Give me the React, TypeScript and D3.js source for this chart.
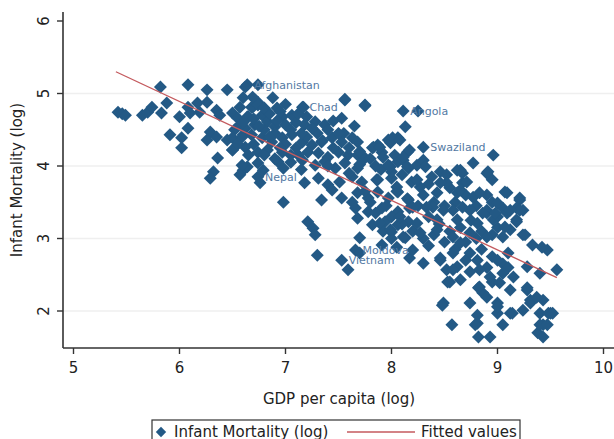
import * as d3 from "d3";

// observations: [gdp per capita (log), infant mortality (log)]
const obsLeft: [number, number][] = [
  [5.42, 4.74], [5.46, 4.72], [5.49, 4.70], [5.65, 4.70], [5.70, 4.74], [5.74, 4.81],
  [5.83, 4.73], [5.88, 4.87], [5.82, 5.09], [6.08, 5.12], [6.26, 5.05], [6.45, 5.05],
  [6.64, 5.12], [6.74, 5.12], [5.91, 4.43], [6.02, 4.39], [6.02, 4.25], [6.08, 4.52],
  [6.00, 4.68], [6.08, 4.81], [6.17, 4.87], [6.26, 4.88], [6.19, 4.74], [6.10, 4.73],
  [6.35, 4.77], [6.38, 4.70], [6.29, 4.47], [6.26, 4.36], [6.35, 4.40], [6.36, 4.11],
  [6.32, 3.92], [6.29, 3.83], [6.45, 4.36], [6.50, 4.22], [6.60, 4.43], [6.57, 4.57],
  [6.64, 4.68], [6.69, 4.81], [6.57, 4.81], [6.74, 4.88], [6.60, 4.94], [6.69, 4.95],
  [6.60, 3.94], [6.64, 3.99], [6.74, 3.85], [6.79, 3.94],
];

const obsCore: [number, number][] = [
  [6.62, 5.09], [6.88, 4.94], [6.68, 4.81], [6.74, 4.84], [6.92, 4.80], [7.16, 4.81],
  [7.56, 4.91], [7.75, 4.84], [7.53, 4.66], [8.13, 4.54],
  [6.50, 4.73], [6.55, 4.66], [6.65, 4.68], [6.78, 4.70], [6.83, 4.61], [6.97, 4.68],
  [7.06, 4.70], [7.18, 4.57], [7.28, 4.61], [7.37, 4.57], [7.00, 4.57], [6.90, 4.54],
  [6.71, 4.57], [6.62, 4.52], [6.52, 4.50],
  [6.50, 4.39], [6.59, 4.40], [6.68, 4.43], [6.78, 4.39], [6.87, 4.33], [6.97, 4.39],
  [7.06, 4.43], [7.16, 4.33], [7.25, 4.29], [7.34, 4.33], [7.44, 4.39], [7.53, 4.33],
  [7.63, 4.39], [7.68, 4.33], [7.87, 4.29], [7.97, 4.36], [8.06, 4.39], [6.50, 4.22],
  [6.62, 4.26], [6.74, 4.19], [6.83, 4.22], [6.97, 4.19], [7.12, 4.15], [7.21, 4.19],
  [7.31, 4.18], [7.40, 4.12], [7.50, 4.19], [7.59, 4.15], [7.68, 4.15], [7.82, 4.25],
  [7.91, 4.19], [8.03, 4.15], [8.15, 4.19],
  [6.59, 4.01], [6.74, 4.04], [6.93, 4.06], [6.98, 3.97], [7.16, 4.08], [7.28, 4.01],
  [7.37, 4.06], [7.47, 3.97], [7.56, 4.04], [7.68, 3.97], [7.75, 4.11], [7.97, 4.01],
  [8.06, 4.06], [8.16, 3.97], [6.57, 3.88], [6.76, 3.77], [7.18, 3.77],
  [7.31, 3.83], [7.40, 3.74], [7.51, 3.78], [7.63, 3.85], [7.72, 3.78], [7.87, 3.81],
  [8.00, 3.83], [8.10, 3.88], [8.19, 3.78],
  [6.70, 4.65], [6.80, 4.50], [6.90, 4.45], [7.00, 4.30], [7.10, 4.25], [7.20, 4.40],
  [7.30, 4.45], [7.40, 4.50], [7.45, 4.25], [6.95, 4.75], [7.10, 4.60], [7.20, 4.68],
  [6.85, 4.72], [7.40, 4.00], [7.60, 3.90], [7.55, 4.45], [7.65, 4.55], [7.45, 4.62],
  [6.55, 4.30], [6.70, 4.30], [6.80, 4.15], [6.90, 4.10], [7.05, 4.05], [7.15, 3.95],
  [6.60, 4.60], [6.75, 4.55], [6.85, 4.40], [6.95, 4.25], [7.05, 4.15], [7.15, 4.45],
  [7.25, 4.52], [7.35, 4.35], [7.50, 4.45], [7.60, 4.25], [7.70, 4.20], [7.80, 4.10],
  [7.90, 3.95], [8.00, 3.92], [7.85, 4.00], [7.70, 4.02], [6.65, 4.15], [6.92, 4.62],
  [7.05, 4.50], [7.12, 4.72], [6.80, 4.80], [7.00, 4.85],
];

const obsMid: [number, number][] = [
  [7.44, 3.67], [7.53, 3.56], [7.63, 3.50], [7.68, 3.63], [7.78, 3.56], [7.87, 3.64],
  [7.97, 3.56], [8.06, 3.64], [8.16, 3.53], [6.98, 3.50], [7.66, 3.42], [7.78, 3.37],
  [7.91, 3.42], [8.06, 3.37], [8.17, 3.42],
  [7.21, 3.23], [7.26, 3.14], [7.28, 3.05], [7.68, 3.28], [7.82, 3.19], [7.94, 3.23],
  [8.06, 3.19], [8.16, 3.23], [7.70, 3.01], [8.13, 3.01], [8.00, 3.09],
  [7.34, 3.53], [7.30, 2.77], [7.66, 2.84], [7.70, 2.80], [7.53, 2.70], [7.59, 2.57],
  [7.91, 2.91], [8.30, 2.66], [8.17, 2.73],
  [8.00, 3.30], [8.10, 3.20], [8.20, 3.10], [8.30, 3.00], [8.35, 2.90], [8.40, 3.05],
  [8.50, 2.95], [8.55, 3.10], [8.45, 3.20], [8.35, 3.30], [8.25, 3.45], [8.15, 3.55],
  [8.05, 3.65], [7.95, 3.45], [7.85, 3.35], [7.80, 3.50], [7.75, 3.65], [7.92, 3.10],
  [8.00, 3.00], [8.60, 2.85], [8.70, 2.95], [8.80, 3.00], [8.85, 2.85], [8.95, 2.75],
  [9.05, 2.65], [9.10, 2.80], [8.65, 3.15], [8.75, 3.25],
  [8.30, 3.60], [8.40, 3.50], [8.50, 3.45], [8.60, 3.50], [8.70, 3.60], [8.55, 3.70],
  [8.35, 3.75], [8.80, 3.45], [8.95, 3.50], [9.00, 3.30], [8.85, 3.10], [8.95, 3.05],
  [9.00, 3.15], [8.70, 2.70], [8.90, 2.60], [9.00, 2.70], [8.95, 2.40], [9.10, 2.60],
];

const obsRight: [number, number][] = [
  [7.56, 4.92], [7.75, 4.83], [8.11, 4.76], [8.25, 4.76], [7.17, 4.81],
  [8.30, 4.26], [8.96, 4.15], [7.83, 4.26], [7.99, 4.32], [8.17, 4.22], [8.11, 4.08],
  [7.99, 3.99], [8.24, 4.01], [8.46, 3.92], [8.65, 3.94], [8.77, 4.04], [8.90, 3.90],
  [8.52, 3.77], [8.67, 3.77], [8.38, 3.85], [7.86, 3.81], [8.05, 3.71], [8.27, 3.71],
  [8.43, 3.63], [8.62, 3.63], [8.77, 3.57], [8.90, 3.60], [9.07, 3.64], [9.21, 3.53],
  [9.05, 3.42], [9.24, 3.39], [9.18, 3.26], [8.90, 3.39], [8.74, 3.39], [8.58, 3.39],
  [8.39, 3.43], [8.20, 3.43], [8.08, 3.30], [8.24, 3.21], [8.43, 3.26], [8.62, 3.26],
  [8.81, 3.21], [8.96, 3.26], [9.12, 3.12], [9.24, 3.05], [9.33, 2.91], [9.47, 2.84],
  [9.40, 2.52], [9.56, 2.57], [9.28, 2.61], [9.05, 3.02], [8.90, 3.02], [8.74, 3.08],
  [8.58, 3.02], [8.43, 3.12], [8.27, 3.08], [8.11, 3.02], [7.99, 3.12], [7.89, 3.21],
  [7.89, 4.26], [8.01, 4.39], [8.08, 4.36], [7.92, 4.12], [7.97, 4.01], [8.11, 4.12],
  [8.15, 3.99], [8.30, 4.08], [8.32, 3.99], [8.62, 3.94], [8.67, 3.90], [8.91, 3.92],
  [8.95, 3.81], [8.71, 3.78], [8.52, 3.88], [8.46, 3.77], [8.24, 3.81], [8.65, 3.67],
  [8.83, 3.63], [9.09, 3.63], [9.21, 3.56], [9.18, 3.42], [9.00, 3.49], [9.09, 3.35],
  [8.90, 3.35], [8.98, 3.35], [8.86, 3.35], [8.67, 3.43], [8.49, 3.39], [8.33, 3.43],
  [9.26, 3.05], [9.18, 3.23], [9.07, 3.16], [9.21, 3.39], [9.12, 3.39], [9.42, 2.88],
];

const obsLow: [number, number][] = [
  [8.05, 2.88], [8.20, 2.84], [8.46, 2.73], [8.58, 2.80], [8.65, 2.94], [8.74, 2.80],
  [8.81, 2.70], [8.83, 2.57], [8.74, 2.54], [8.62, 2.61], [8.52, 2.57], [8.55, 2.40],
  [8.83, 2.33], [8.93, 2.47], [9.05, 2.52], [9.15, 2.47], [9.02, 2.39], [9.12, 2.29],
  [9.28, 2.29], [9.31, 2.15], [9.43, 2.15], [9.50, 1.97], [9.40, 1.97], [9.24, 2.01],
  [9.12, 1.97], [9.00, 2.11], [8.86, 2.25], [8.74, 2.11], [8.49, 2.11], [8.81, 1.94],
  [9.05, 1.81], [9.43, 1.81], [9.38, 1.70], [8.93, 1.64], [8.81, 1.83],
  [8.48, 2.08], [8.57, 1.81], [8.79, 1.81], [8.82, 1.64], [9.00, 1.97], [9.14, 1.97],
  [9.40, 1.81], [9.47, 1.81], [9.43, 1.64], [9.48, 1.97], [9.52, 1.97], [9.28, 2.32],
  [9.31, 2.11], [9.37, 2.19], [8.46, 2.70], [8.53, 2.40], [8.65, 2.43], [8.58, 2.57],
  [8.82, 2.32], [8.90, 2.19], [9.00, 2.06],
];

const labelNames = ["Afghanistan", "Chad", "Angola", "Swaziland", "Nepal", "Moldova", "Vietnam"];
const labelGdp = [6.64, 7.16, 8.11, 8.30, 6.74, 7.66, 7.53];
const labelMort = [5.12, 4.81, 4.76, 4.26, 3.85, 2.84, 2.70];

const fitGdp = [5.40, 9.56];
const fitMort = [5.30, 2.46];

const xTicks = [5, 6, 7, 8, 9, 10];
const yTicks = [2, 3, 4, 5, 6];
const gridTicks = [2, 3, 4, 5];

export default function App() {
  const W = 614;
  const H = 439;
  const axisX = 63;
  const axisY = 348;
  const axisTop = 12;

  const x = d3.scaleLinear().domain([5, 10]).range([73.5, 603.5]);
  const y = d3.scaleLinear().domain([2, 6]).range([311, 21]);

  const all = [...obsLeft, ...obsCore, ...obsMid, ...obsRight, ...obsLow];
  const diamond = d3.symbol(d3.symbolSquare, 84)() as string;
  const markColor = "#235985";
  const fitColor = "#c45a5e";
  const font = "'DejaVu Sans', sans-serif";

  const fitLine = d3
    .line<number>()
    .x((_, i) => x(fitGdp[i]))
    .y((_, i) => y(fitMort[i]))(fitGdp) as string;

  return (
    <svg
      width={W}
      height={H}
      style={{ position: "absolute", left: 0, top: 0, background: "#fff" }}
    >
      {gridTicks.map((t) => (
        <line key={t} x1={axisX} x2={W} y1={y(t)} y2={y(t)} stroke="#efefef" strokeWidth={1.5} />
      ))}

      {all.map((d, i) => (
        <path
          key={i}
          d={diamond}
          transform={`translate(${x(d[0])},${y(d[1])}) rotate(45)`}
          fill={markColor}
        />
      ))}

      {labelNames.map((n, i) => (
        <text
          key={n}
          x={x(labelGdp[i]) + 7}
          y={y(labelMort[i]) + 4}
          fontSize={11}
          fontFamily={font}
          fill="#5279a3"
        >
          {n}
        </text>
      ))}

      <path d={fitLine} stroke={fitColor} strokeWidth={1.3} fill="none" />

      {/* axes */}
      <line x1={axisX} x2={axisX} y1={axisTop} y2={axisY} stroke="#333" strokeWidth={1.6} />
      <line x1={axisX} x2={W} y1={axisY} y2={axisY} stroke="#333" strokeWidth={1.6} />
      {yTicks.map((t) => (
        <g key={t}>
          <line x1={axisX - 6} x2={axisX} y1={y(t)} y2={y(t)} stroke="#333" strokeWidth={1.4} />
          <text
            transform={`translate(${axisX - 14},${y(t)}) rotate(-90)`}
            textAnchor="middle"
            fontSize={15}
            fontFamily={font}
            fill="#222"
          >
            {t}
          </text>
        </g>
      ))}
      {xTicks.map((t) => (
        <g key={t}>
          <line x1={x(t)} x2={x(t)} y1={axisY} y2={axisY + 6} stroke="#333" strokeWidth={1.4} />
          <text
            x={x(t)}
            y={axisY + 25}
            textAnchor="middle"
            fontSize={15}
            fontFamily={font}
            fill="#222"
          >
            {t}
          </text>
        </g>
      ))}
      <text
        x={339}
        y={404}
        textAnchor="middle"
        fontSize={15}
        fontFamily={font}
        fill="#222"
      >
        GDP per capita (log)
      </text>
      <text
        transform={`translate(22,180) rotate(-90)`}
        textAnchor="middle"
        fontSize={15}
        fontFamily={font}
        fill="#222"
      >
        Infant Mortality (log)
      </text>

      {/* legend */}
      <rect x={152} y={420} width={368} height={30} fill="#fff" stroke="#333" strokeWidth={1.2} />
      <path d={diamond} transform="translate(161,432) rotate(45) scale(0.8)" fill={markColor} />
      <text x={174} y={437} fontSize={15} fontFamily={font} fill="#222">
        Infant Mortality (log)
      </text>
      <line x1={347} x2={415} y1={432} y2={432} stroke={fitColor} strokeWidth={1.3} />
      <text x={421} y={437} fontSize={15} fontFamily={font} fill="#222">
        Fitted values
      </text>
    </svg>
  );
}
